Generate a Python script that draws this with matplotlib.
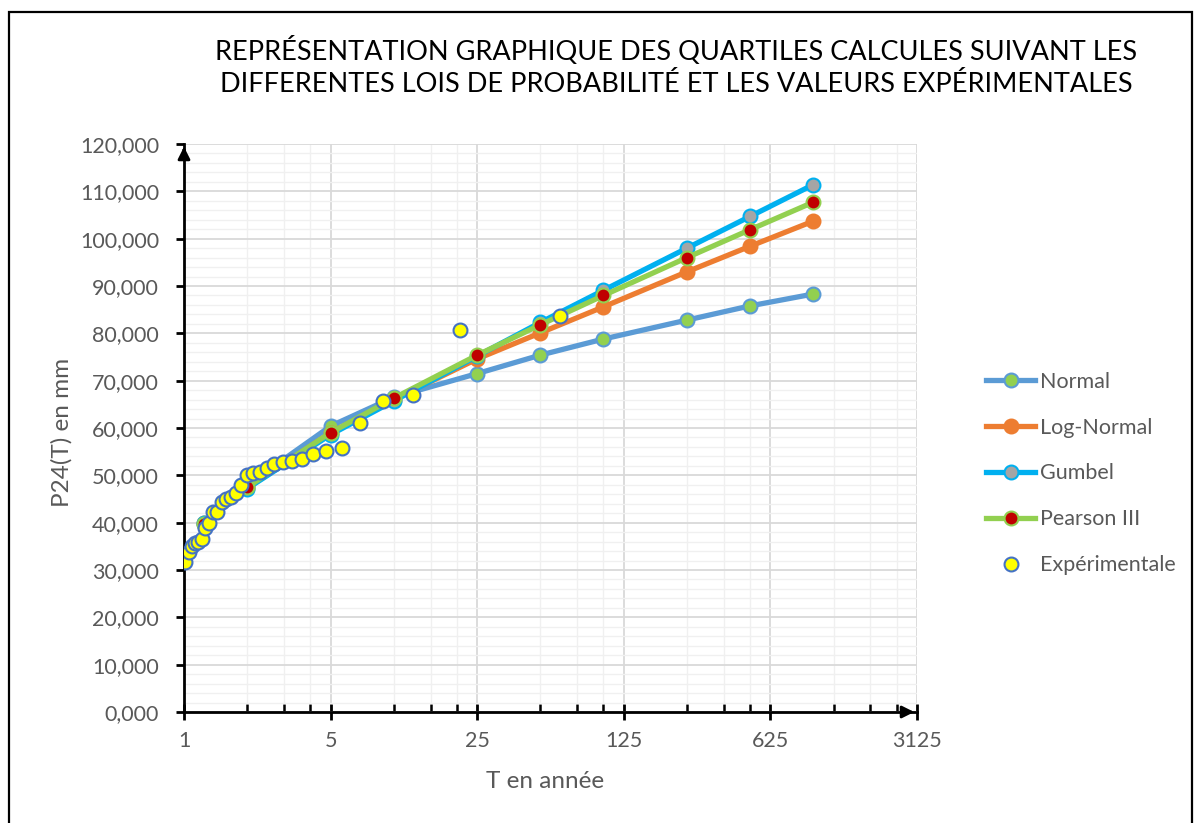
import matplotlib
matplotlib.use("Agg")
import matplotlib.pyplot as plt
from matplotlib.patches import Rectangle
from matplotlib.ticker import FixedLocator, FuncFormatter, NullFormatter

plt.rcParams['font.family'] = ['Lato', 'DejaVu Sans']

# Return periods for the theoretical quantiles
T_theo = [1.25, 2, 5, 10, 25, 50, 100, 250, 500, 1000]
normal = [39700, 47900, 60400, 66500, 71500, 75400, 78800, 82800, 85800, 88300]
log_normal = [39900, 47300, 59000, 66000, 74600, 80100, 85600, 93000, 98400, 103700]
gumbel = [40000, 47200, 58600, 65700, 75200, 82300, 89100, 98000, 104700, 111400]
pearson3 = [39800, 47500, 59000, 66300, 75400, 81800, 88000, 96000, 101900, 107700]

# Experimental values (plotting positions)
T_exp = [1.016, 1.051, 1.088, 1.127, 1.170, 1.216, 1.265, 1.319, 1.378, 1.442,
         1.512, 1.590, 1.676, 1.771, 1.879, 2.000, 2.138, 2.296, 2.480, 2.696,
         2.952, 3.263, 3.647, 4.133, 4.769, 5.636, 6.889, 8.857, 12.40, 20.67, 62.0]
p_exp = [31700, 33900, 35000, 35600, 36000, 36500, 38800, 39900, 42200, 42300,
         44400, 44900, 45500, 46300, 48000, 50100, 50400, 50800, 51500, 52500,
         52900, 53100, 53400, 54600, 55100, 55700, 61000, 65800, 67000, 80800, 83700]

x_major = [1, 5, 25, 125, 625, 3125]
y_major = list(range(0, 120001, 10000))

W, H = 1194, 823
fig = plt.figure(figsize=(W / 100, H / 100), dpi=100)

# outer chart border
fig.patches.append(Rectangle((9 / W, -0.01), (1192 - 9) / W, 1 - 12 / H + 0.01,
                             transform=fig.transFigure, fill=False,
                             edgecolor='black', linewidth=1.6))

ax = fig.add_axes([184 / W, 1 - 712 / H, (917 - 184) / W, (712 - 144) / H])
ax.set_xscale('log', base=5)
ax.set_xlim(1, 3125)
ax.set_ylim(0, 120000)

# grid
minor_x = [m * 5 ** k for k in range(5) for m in (2, 3, 4)]
ax.xaxis.set_major_locator(FixedLocator(x_major))
ax.xaxis.set_minor_locator(FixedLocator(minor_x))
ax.yaxis.set_major_locator(FixedLocator(y_major))
ax.yaxis.set_minor_locator(FixedLocator([v for v in range(0, 120001, 2000) if v % 10000]))
ax.grid(True, which='major', color='#D9D9D9', linewidth=1.3, zorder=0)
ax.grid(True, which='minor', color='#F0F0F0', linewidth=1.0, zorder=0)
ax.set_axisbelow(True)

ax.xaxis.set_major_formatter(FuncFormatter(lambda v, p: f"{int(round(v))}"))
ax.xaxis.set_minor_formatter(NullFormatter())
ax.yaxis.set_major_formatter(FuncFormatter(lambda v, p: f"{v / 1000:.3f}".replace('.', ',')))

for s in ('top', 'right'):
    ax.spines[s].set_visible(False)
for s in ('left', 'bottom'):
    ax.spines[s].set_linewidth(2.0)
    ax.spines[s].set_color('black')

ax.tick_params(axis='y', which='major', direction='out', length=6, width=2,
               colors='black', labelcolor='#595959', labelsize=15.5, pad=12)
ax.tick_params(axis='y', which='minor', length=0)
ax.tick_params(axis='x', which='major', direction='inout', length=12, width=2,
               colors='black', labelcolor='#595959', labelsize=15.5, pad=8)
ax.tick_params(axis='x', which='minor', direction='in', length=6, width=1.8, colors='black')

# arrows on axes
ax.annotate('', xy=(1, 0), xytext=(0.98, 0), xycoords='axes fraction',
            arrowprops=dict(arrowstyle='-|>', color='black', lw=2, mutation_scale=18),
            annotation_clip=False)
ax.annotate('', xy=(0, 1), xytext=(0, 0.98), xycoords='axes fraction',
            arrowprops=dict(arrowstyle='-|>', color='black', lw=2, mutation_scale=18),
            annotation_clip=False)

lw = 3.8
ms = 10
ax.plot(T_theo, normal, color='#5B9BD5', lw=lw, marker='o', ms=ms,
        mfc='#92D050', mec='#5B9BD5', mew=1.5, label='Normal', zorder=3)
ax.plot(T_theo, log_normal, color='#ED7D31', lw=lw, marker='o', ms=ms,
        mfc='#ED7D31', mec='#ED7D31', mew=1.5, label='Log-Normal', zorder=3)
ax.plot(T_theo, gumbel, color='#00B0F0', lw=lw, marker='o', ms=ms,
        mfc='#A5A5A5', mec='#00B0F0', mew=1.5, label='Gumbel', zorder=3)
ax.plot(T_theo, pearson3, color='#92D050', lw=lw, marker='o', ms=ms,
        mfc='#C00000', mec='#92D050', mew=1.5, label='Pearson III', zorder=3)
ax.plot(T_exp, p_exp, linestyle='none', marker='o', ms=ms,
        mfc='#FFFF00', mec='#4472C4', mew=1.5, label='Expérimentale', zorder=4)

ax.set_xlabel('T en année', fontsize=17.5, color='#595959')
ax.set_ylabel('P24(T) en mm', fontsize=17.5, color='#595959')
ax.xaxis.set_label_coords((545 - 184) / 733, (712 - 782) / 568)
ax.yaxis.set_label_coords((62 - 184) / 733, (712 - 432) / 568)
ax.xaxis.label.set_va('center')
ax.yaxis.label.set_va('center')

fig.text(676 / W, 1 - 67 / H,
         "REPRÉSENTATION GRAPHIQUE DES QUARTILES CALCULES SUIVANT LES\n"
         "DIFFERENTES LOIS DE PROBABILITÉ ET LES VALEURS EXPÉRIMENTALES",
         ha='center', va='center', fontsize=19.5, color='black', linespacing=1.35)

leg = ax.legend(loc='upper left', bbox_to_anchor=(975 / W, 1 - 361 / H),
                bbox_transform=fig.transFigure, frameon=False, fontsize=15.5,
                handlelength=2.3, labelspacing=1.2, handletextpad=0.2,
                labelcolor='#595959', borderpad=0)

fig.savefig('out.png', dpi=100)
